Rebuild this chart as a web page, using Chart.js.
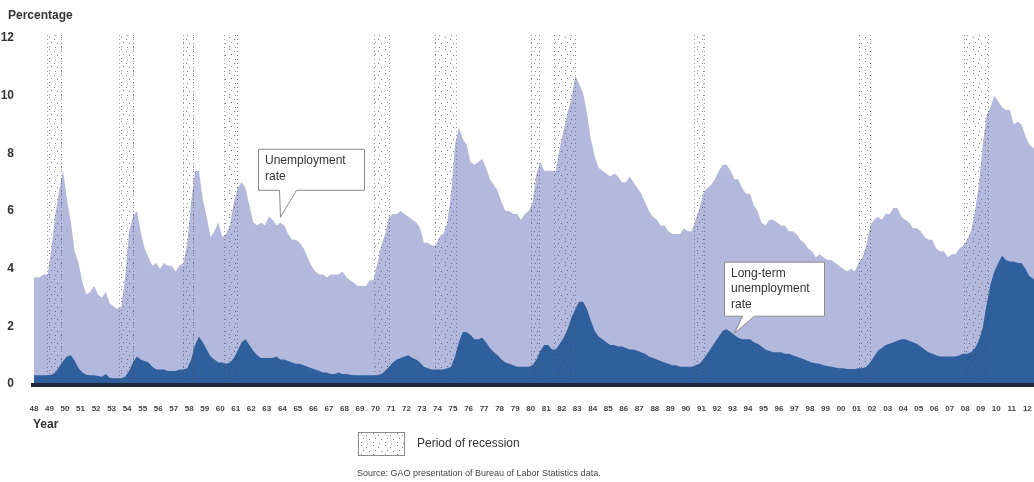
<!DOCTYPE html>
<html>
<head>
<meta charset="utf-8">
<script src="https://cdn.jsdelivr.net/npm/chart.js@4.4.1/dist/chart.umd.min.js"></script>
<style>
  html, body { margin: 0; padding: 0; background: #ffffff; }
  #wrap { position: relative; width: 1034px; height: 482px; }
</style>
</head>
<body>
<div id="wrap"><canvas id="c"></canvas></div>
<script>
// ---------------- DATA ----------------
const startYear = 1948;
const pointsPerYear = 4; // quarterly readings

const xTickLabels = ['48','49','50','51','52','53','54','55','56','57','58','59','60','61','62','63','64','65','66','67','68','69',
  '70','71','72','73','74','75','76','77','78','79','80','81','82','83','84','85','86','87','88','89','90',
  '91','92','93','94','95','96','97','98','99','00','01','02','03','04','05','06','07','08','09','10','11','12'];

const yTickValues = [0, 2, 4, 6, 8, 10, 12];

// Unemployment rate (%), quarterly 1948 Q1 .. 2012 Q4
const unemploymentRate = [
  3.7,3.7,3.8,3.8,  4.7,5.9,6.7,7.4,  6.4,5.6,4.6,4.2,  3.5,3.1,3.2,3.4,  3.1,3.0,3.2,2.8,
  2.7,2.6,2.7,3.7,  5.3,5.8,6.0,5.3,  4.7,4.4,4.1,4.2,  4.0,4.2,4.1,4.1,  3.9,4.1,4.2,4.9,
  6.3,7.4,7.4,6.4,  5.8,5.1,5.3,5.6,  5.1,5.2,5.5,6.3,  6.8,7.0,6.8,6.2,  5.6,5.5,5.6,5.5,
  5.8,5.7,5.5,5.6,  5.5,5.2,5.0,5.0,  4.9,4.7,4.4,4.1,  3.9,3.8,3.8,3.7,  3.8,3.8,3.8,3.9,
  3.7,3.6,3.5,3.4,  3.4,3.4,3.6,3.6,  4.2,4.8,5.2,5.8,  5.9,5.9,6.0,5.9,  5.8,5.7,5.6,5.4,
  4.9,4.9,4.8,4.8,  5.1,5.2,5.6,6.6,  8.3,8.9,8.5,8.3,  7.7,7.6,7.7,7.8,  7.5,7.1,6.9,6.7,
  6.3,6.0,6.0,5.9,  5.9,5.7,5.9,6.0,  6.3,7.3,7.7,7.4,  7.4,7.4,7.4,8.2,  8.8,9.4,9.9,10.7,
  10.4,10.1,9.4,8.5, 7.9,7.5,7.4,7.3, 7.2,7.3,7.2,7.0,  7.0,7.2,7.0,6.8,  6.6,6.3,6.0,5.8,
  5.7,5.5,5.5,5.3,  5.2,5.2,5.2,5.4,  5.3,5.3,5.7,6.1,  6.6,6.8,6.9,7.1,  7.4,7.6,7.6,7.4,
  7.1,7.1,6.8,6.6,  6.6,6.2,6.0,5.6,  5.5,5.7,5.7,5.6,  5.5,5.5,5.3,5.3,  5.2,5.0,4.9,4.7,
  4.6,4.4,4.5,4.4,  4.3,4.3,4.2,4.1,  4.0,3.9,4.0,3.9,  4.2,4.4,4.8,5.5,  5.7,5.8,5.7,5.9,
  5.9,6.1,6.1,5.8,  5.7,5.6,5.4,5.4,  5.3,5.1,5.0,5.0,  4.7,4.6,4.6,4.4,  4.5,4.5,4.7,4.8,
  5.0,5.3,6.0,6.9,  8.3,9.3,9.6,10.0, 9.8,9.6,9.5,9.5,  9.0,9.1,9.0,8.6,  8.3,8.2,8.0,7.8
];

// Long-term (27+ weeks) unemployment rate (%), quarterly 1948 Q1 .. 2012 Q4
const longTermRate = [
  0.30,0.30,0.30,0.30, 0.32,0.40,0.60,0.80, 0.95,1.00,0.80,0.55, 0.40,0.32,0.30,0.30, 0.28,0.25,0.35,0.22,
  0.20,0.20,0.20,0.25, 0.45,0.75,0.95,0.85, 0.80,0.75,0.60,0.50, 0.50,0.50,0.45,0.45, 0.45,0.50,0.50,0.55,
  0.85,1.35,1.65,1.45, 1.20,0.95,0.85,0.75, 0.75,0.70,0.75,0.90, 1.15,1.45,1.55,1.35, 1.15,1.00,0.90,0.90,
  0.90,0.90,0.95,0.85, 0.85,0.80,0.75,0.70, 0.70,0.65,0.60,0.55, 0.50,0.45,0.40,0.40, 0.35,0.35,0.40,0.35,
  0.35,0.32,0.30,0.30, 0.30,0.30,0.30,0.30, 0.30,0.35,0.45,0.60, 0.75,0.85,0.90,0.95, 1.00,0.90,0.85,0.75,
  0.60,0.55,0.50,0.50, 0.50,0.50,0.55,0.60, 0.95,1.45,1.80,1.80, 1.70,1.55,1.55,1.60, 1.45,1.25,1.10,1.00,
  0.85,0.75,0.70,0.65, 0.60,0.60,0.60,0.60, 0.65,0.85,1.15,1.35, 1.35,1.20,1.20,1.40, 1.60,1.90,2.30,2.60,
  2.85,2.85,2.60,2.20, 1.85,1.65,1.55,1.45, 1.35,1.35,1.30,1.30, 1.25,1.20,1.20,1.15, 1.10,1.05,0.95,0.90,
  0.85,0.80,0.75,0.70, 0.65,0.65,0.60,0.60, 0.60,0.60,0.65,0.70, 0.85,1.05,1.25,1.45, 1.65,1.85,1.90,1.80,
  1.70,1.60,1.55,1.55, 1.55,1.45,1.40,1.30, 1.20,1.15,1.10,1.10, 1.10,1.05,1.05,1.00, 0.95,0.90,0.85,0.80,
  0.75,0.72,0.70,0.65, 0.62,0.60,0.57,0.55, 0.55,0.52,0.52,0.52, 0.55,0.55,0.60,0.75, 0.95,1.15,1.25,1.35,
  1.40,1.45,1.50,1.55, 1.55,1.50,1.45,1.40, 1.30,1.20,1.10,1.05, 1.00,0.95,0.95,0.95, 0.95,0.95,1.00,1.05,
  1.05,1.10,1.25,1.50, 1.95,2.75,3.45,3.90, 4.20,4.45,4.30,4.25, 4.25,4.20,4.20,4.00, 3.75,3.65,3.45,3.30
];

// NBER recession periods (decimal years: start, end)
const recessions = [
  [1948.83, 1949.83], [1953.50, 1954.42], [1957.58, 1958.33], [1960.25, 1961.17],
  [1969.92, 1970.92], [1973.83, 1975.25], [1980.00, 1980.58], [1981.50, 1982.92],
  [1990.50, 1991.25], [2001.17, 2001.92], [2007.92, 2009.50]
];

const seriesNames = ['Unemployment rate', 'Long-term unemployment rate'];
const calloutAnchors = [
  { lines: ['Unemployment', 'rate'], year: 1963.85, value: 5.8 },
  { lines: ['Long-term', 'unemployment', 'rate'], year: 1993.1, value: 1.78 }
];

const xMin = 1948, xMax = 2012.43;

// ---------------- BUILD ----------------
function toPoints(vals) {
  const pts = vals.map((v, i) => ({ x: startYear + (i + 0.5) / pointsPerYear, y: v }));
  pts.unshift({ x: xMin, y: vals[0] });
  return pts;
}

const FONT = '"Liberation Sans", Arial, Helvetica, sans-serif';
const LIGHT = '#b3b9dc';
const DARK = '#2f5f9c';

function makeDotPattern() {
  const c = document.createElement('canvas');
  c.width = 12; c.height = 12;
  const g = c.getContext('2d');
  g.fillStyle = 'rgba(60,60,65,0.6)';
  [[1,1],[6,3],[3,6],[9,7],[1,10],[7,11]].forEach(p => g.fillRect(p[0], p[1], 1, 1));
  return c;
}
const dotTile = makeDotPattern();

function drawCallout(ctx, tipX, tipY, box, baseL, baseR, lines) {
  ctx.save();
  ctx.fillStyle = '#ffffff';
  ctx.strokeStyle = '#8a8a8a';
  ctx.lineWidth = 1;
  ctx.beginPath();
  ctx.moveTo(box.x + 0.5, box.y + 0.5);
  ctx.lineTo(box.x + box.w + 0.5, box.y + 0.5);
  ctx.lineTo(box.x + box.w + 0.5, box.y + box.h + 0.5);
  ctx.lineTo(baseR + 0.5, box.y + box.h + 0.5);
  ctx.lineTo(tipX + 0.5, tipY + 0.5);
  ctx.lineTo(baseL + 0.5, box.y + box.h + 0.5);
  ctx.lineTo(box.x + 0.5, box.y + box.h + 0.5);
  ctx.closePath();
  ctx.fill();
  ctx.stroke();
  ctx.fillStyle = '#333333';
  ctx.font = '12px ' + FONT;
  ctx.textBaseline = 'middle';
  ctx.textAlign = 'left';
  lines.forEach((t, i) => ctx.fillText(t, box.x + 7, box.y + 12 + i * 15.5));
  ctx.restore();
}

const decor = {
  id: 'decor',
  afterDatasetsDraw(chart) {
    const { ctx, chartArea, scales } = chart;
    const xs = scales.x;
    const top = chartArea.top - 3, bottom = chartArea.bottom;
    const pat = ctx.createPattern(dotTile, 'repeat');
    ctx.save();
    recessions.forEach(([s, e]) => {
      const x1 = Math.round(xs.getPixelForValue(s));
      const x2 = Math.round(xs.getPixelForValue(e));
      ctx.fillStyle = pat;
      ctx.fillRect(x1, top, x2 - x1, bottom - top);
      ctx.strokeStyle = 'rgba(80,80,85,0.6)';
      ctx.lineWidth = 1;
      ctx.setLineDash([1, 3]);
      ctx.beginPath();
      ctx.moveTo(x1 + 0.5, top); ctx.lineTo(x1 + 0.5, bottom);
      ctx.moveTo(x2 - 0.5, top); ctx.lineTo(x2 - 0.5, bottom);
      ctx.stroke();
    });
    ctx.restore();
  },
  afterDraw(chart) {
    const { ctx, chartArea, scales } = chart;
    const xs = scales.x, ys = scales.y;
    ctx.save();
    // baseline
    ctx.fillStyle = '#1c2636';
    ctx.fillRect(chartArea.left - 3, chartArea.bottom - 1, chartArea.right - chartArea.left + 3, 4);

    // titles
    ctx.fillStyle = '#333333';
    ctx.font = 'bold 12px ' + FONT;
    ctx.textBaseline = 'middle';
    ctx.textAlign = 'left';
    ctx.fillText('Percentage', 8, 16);
    ctx.fillText('Year', 33, 425);

    // legend
    const lx = 358, ly = 432, lw = 46, lh = 23;
    ctx.fillStyle = '#ffffff';
    ctx.fillRect(lx, ly, lw, lh);
    ctx.fillStyle = ctx.createPattern(dotTile, 'repeat');
    ctx.fillRect(lx, ly, lw, lh);
    ctx.strokeStyle = '#8a8a8a';
    ctx.lineWidth = 1;
    ctx.strokeRect(lx + 0.5, ly + 0.5, lw, lh);
    ctx.fillStyle = '#333333';
    ctx.font = '12px ' + FONT;
    ctx.fillText('Period of recession', 417, 444);
    ctx.fillStyle = '#444444';
    ctx.font = '9px ' + FONT;
    ctx.fillText('Source: GAO presentation of Bureau of Labor Statistics data.', 357, 474);
    ctx.restore();

    // callouts
    const a0 = calloutAnchors[0];
    const t0x = xs.getPixelForValue(a0.year), t0y = ys.getPixelForValue(a0.value);
    drawCallout(ctx, t0x, t0y, { x: t0x - 22, y: t0y - 68, w: 106, h: 41 }, t0x - 1, t0x + 16, a0.lines);
    const a1 = calloutAnchors[1];
    const t1x = xs.getPixelForValue(a1.year), t1y = ys.getPixelForValue(a1.value);
    drawCallout(ctx, t1x, t1y, { x: t1x - 10, y: t1y - 71, w: 100, h: 54 }, t1x + 8, t1x + 20, a1.lines);
  }
};

new Chart(document.getElementById('c'), {
  type: 'line',
  data: {
    datasets: [
      {
        label: seriesNames[1],
        data: toPoints(longTermRate),
        order: 0,
        borderWidth: 0,
        borderColor: DARK,
        backgroundColor: DARK,
        pointRadius: 0,
        fill: 'origin',
        tension: 0
      },
      {
        label: seriesNames[0],
        data: toPoints(unemploymentRate),
        order: 1,
        borderWidth: 0,
        borderColor: LIGHT,
        backgroundColor: LIGHT,
        pointRadius: 0,
        fill: 'origin',
        tension: 0
      }
    ]
  },
  options: {
    responsive: true,
    maintainAspectRatio: false,
    animation: false,
    events: [],
    layout: { padding: { top: 38, left: 0, right: 0, bottom: 0 } },
    plugins: { legend: { display: false }, tooltip: { enabled: false } },
    scales: {
      x: {
        type: 'linear',
        min: xMin,
        max: xMax,
        grid: { display: false },
        border: { display: false },
        afterFit(s) { s.height = 98; s.paddingLeft = 0; s.paddingRight = 0; },
        afterBuildTicks(s) { s.ticks = xTickLabels.map((_, i) => ({ value: startYear + i })); },
        ticks: {
          autoSkip: false,
          maxRotation: 0,
          minRotation: 0,
          padding: 12,
          color: '#444444',
          font: { family: FONT, size: 8, weight: 'bold' },
          callback(v) { return xTickLabels[Math.round(v) - startYear]; }
        }
      },
      y: {
        min: 0,
        max: 12,
        grid: { display: false },
        border: { display: false },
        afterFit(s) { s.width = 34; s.paddingTop = 0; s.paddingBottom = 0; },
        afterBuildTicks(s) { s.ticks = yTickValues.map(v => ({ value: v })); },
        ticks: {
          padding: 12,
          color: '#333333',
          font: { family: FONT, size: 12, weight: 'bold' }
        }
      }
    }
  },
  plugins: [decor]
});
</script>
</body>
</html>
